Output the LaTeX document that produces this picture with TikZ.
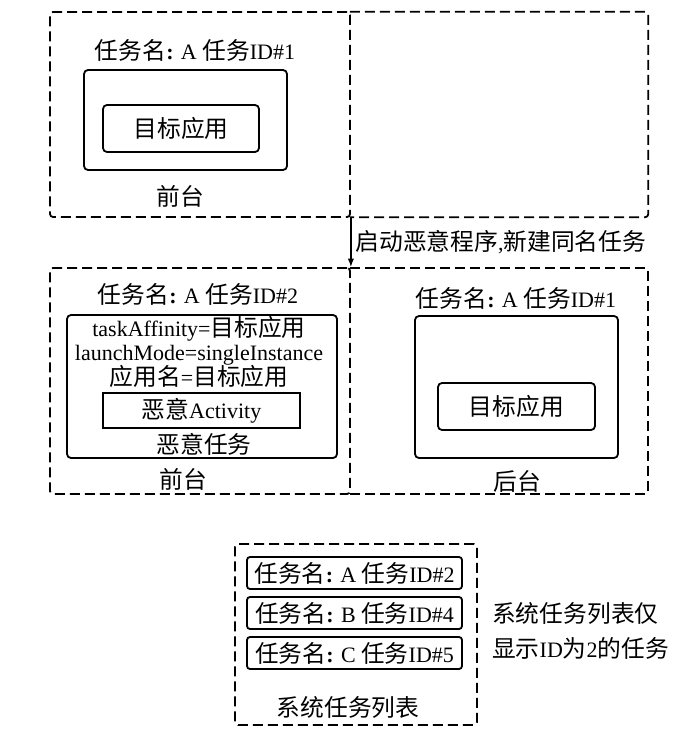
\documentclass[tikz,border=0pt]{standalone}
\usepackage{fontspec}
\setmainfont{Liberation Serif}
\newfontfamily\cjk[Scale=1.08]{Noto Sans CJK SC}
\newcommand{\zhs}[1]{{\cjk #1}}
\usetikzlibrary{arrows.meta}

\begin{document}
\begin{tikzpicture}[x=1pt, y=-1pt, every node/.style={font=\fontsize{22}{24}\selectfont, inner sep=0pt}, >={Latex[length=3mm]},
	stage/.style={draw, line width=1.8pt, dash pattern=on 10pt off 5pt, rounded corners=3pt},
	taskbox/.style={draw, line width=1.8pt, rounded corners=4pt}]
	\useasboundingbox (0,0) rectangle (700,735);
	% before: target app in foreground
	\node[stage, minimum width=300pt, minimum height=205pt] (fgA) at (200,114.5) {};
	\node[minimum width=298pt, minimum height=205pt] (bgA) at (499,114.5) {};
	\draw[stage] (bgA.north west) -| (bgA.south east) -- (bgA.south west);
	\node (nameA) at (195,50) {\zhs{任务名}\textbf{:} A \zhs{任务}ID\#1};
	\node[taskbox, minimum width=203pt, minimum height=100pt] (taskA) at (185.5,120) {};
	\node[taskbox, minimum width=156pt, minimum height=47pt] (appA) at (181,128.5) {\zhs{目标应用}};
	\node (fgAlbl) at (180,196) {\zhs{前台}};
	% after: malicious task on top
	\node[stage, minimum width=300pt, minimum height=226pt] (fgB) at (200,381) {};
	\node[minimum width=298pt, minimum height=226pt] (bgB) at (499,381) {};
	\draw[stage] (bgB.north west) -| (bgB.south east) -- (bgB.south west);
	\draw[->, line width=1.3pt] (fgA.south east) -- (fgB.north east) node[midway, anchor=west, xshift=4pt] (launch) {\zhs{启动恶意程序},\zhs{新建同名任务}};
	\node (nameB) at (198,294) {\zhs{任务名}\textbf{:} A \zhs{任务}ID\#2};
	\node[taskbox, minimum width=270pt, minimum height=143pt] (taskB) at (202,386.5) {};
	\node[align=center] (attrB) at (199,352) {taskAffinity=\zhs{目标应用}\\launchMode=singleInstance\\\zhs{应用名}=\zhs{目标应用}};
	\node[draw, line width=1.8pt, minimum width=197pt, minimum height=35pt] (evilAct) at (201.5,410.5) {\zhs{恶意}Activity};
	\node (evilTask) at (204,444) {\zhs{恶意任务}};
	\node (fgBlbl) at (183,479) {\zhs{前台}};
	\node (nameC) at (516,298) {\zhs{任务名}\textbf{:} A \zhs{任务}ID\#1};
	\node[taskbox, minimum width=203pt, minimum height=142pt] (taskC) at (516.5,387) {};
	\node[taskbox, minimum width=157pt, minimum height=47pt] (appC) at (516.5,406.5) {\zhs{目标应用}};
	\node (bgBlbl) at (517,481) {\zhs{后台}};
	% recent task list
	\node[stage, minimum width=242pt, minimum height=181pt] (sysList) at (356,634.5) {};
	\foreach \y/\n/\i in {573/A/2, 613/B/4, 653/C/5}
		\node[taskbox, rounded corners=3pt, minimum width=215pt, minimum height=32pt] (item\n) at (354.5,\y) {\zhs{任务名}\textbf{:} \n{} \zhs{任务}ID\#\i};
	\node (sysLbl) at (348,707) {\zhs{系统任务列表}};
	\node[align=left, anchor=west, font=\fontsize{22}{35}\selectfont] (note) at (492,630.5) {\zhs{系统任务列表仅}\\\zhs{显示}ID\zhs{为}2\zhs{的任务}};
\end{tikzpicture}
\end{document}
